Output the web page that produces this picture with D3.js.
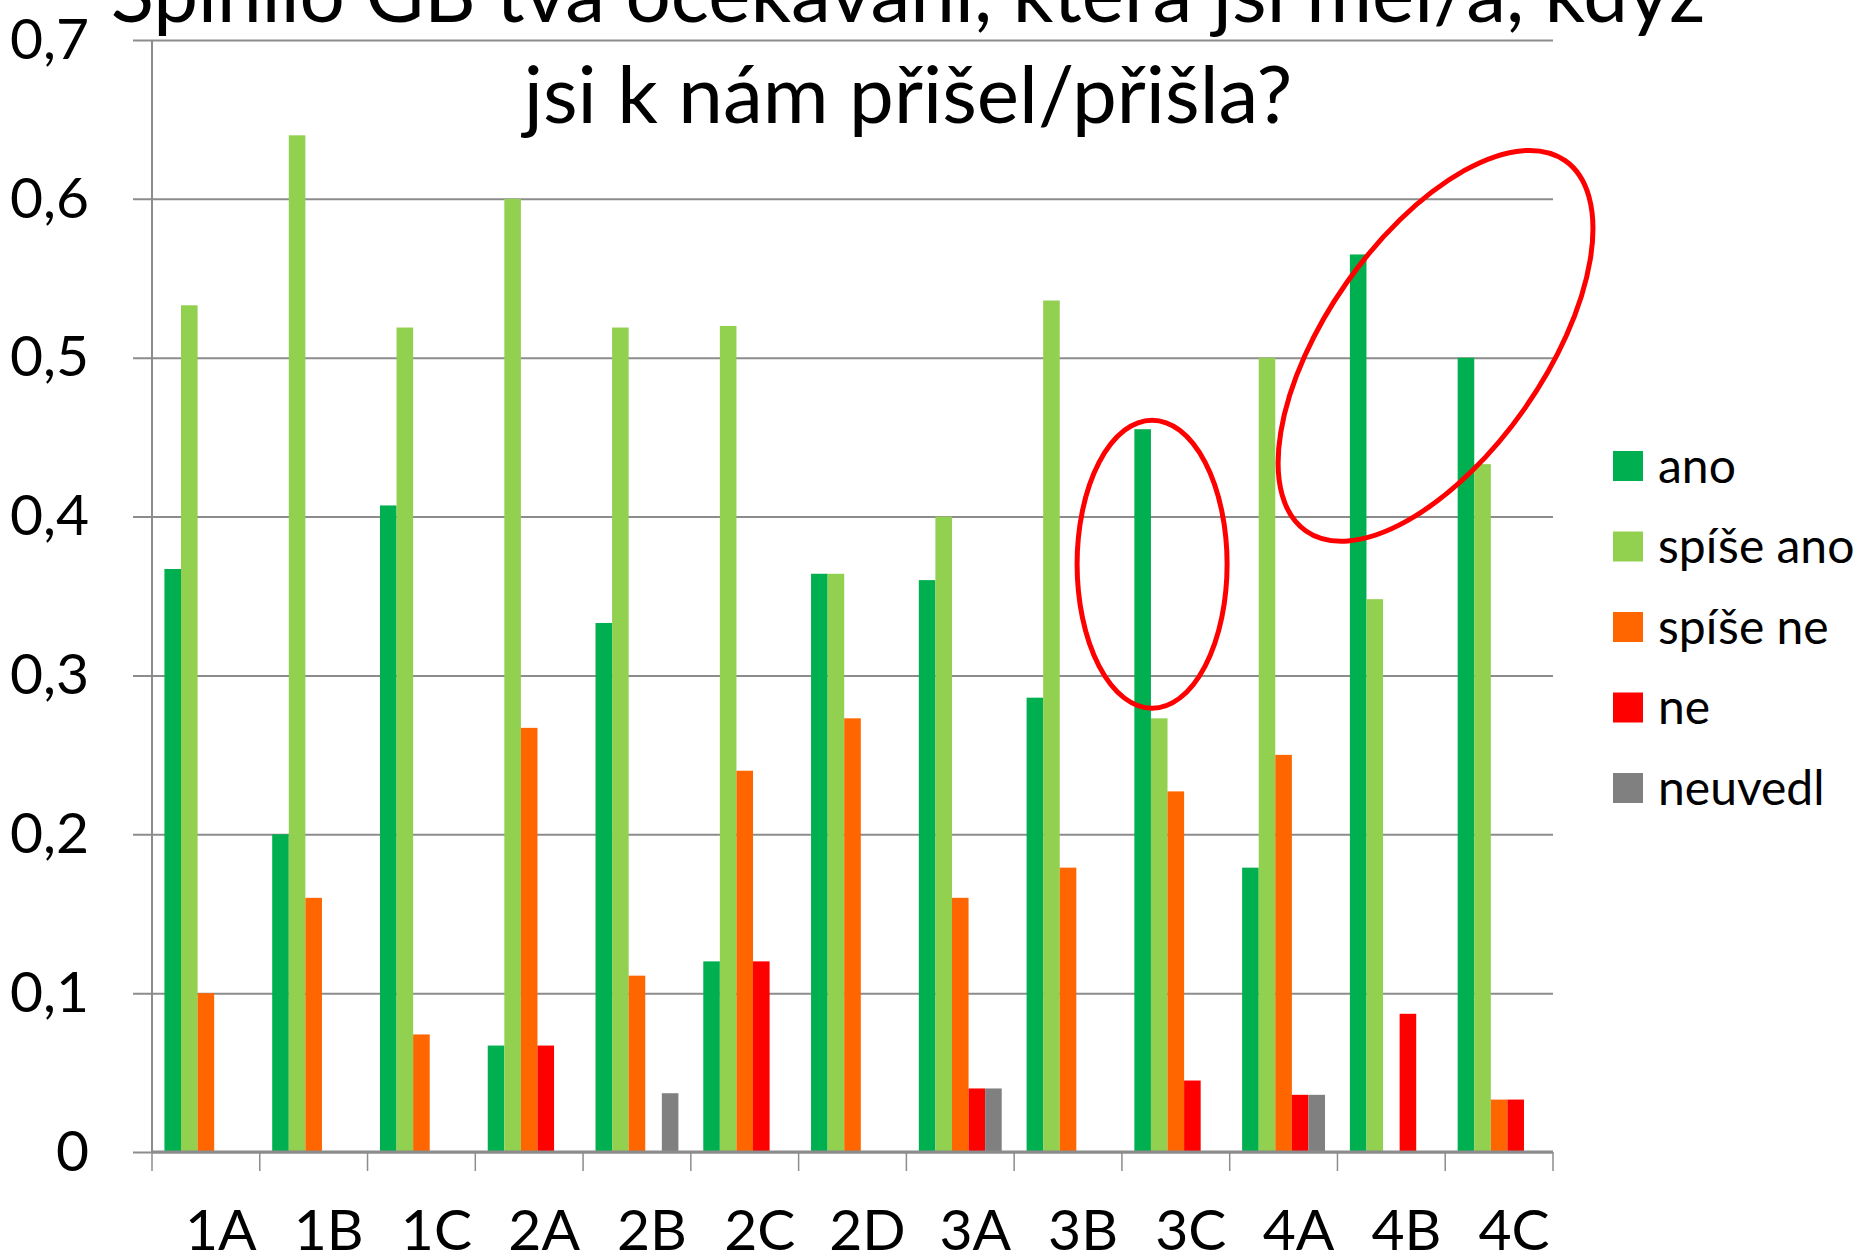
<!DOCTYPE html>
<html>
<head>
<meta charset="utf-8">
<script src="https://cdn.jsdelivr.net/npm/d3@7"></script>
<style>
  body { margin: 0; background: #fff; }
  svg { display: block; font-family: Lato, "Open Sans", sans-serif; }
</style>
</head>
<body>
<svg width="1862" height="1257"></svg>
<script>
// data
const classes = ["1A", "1B", "1C", "2A", "2B", "2C", "2D", "3A", "3B", "3C", "4A", "4B", "4C"];
const seriesNames = ["ano", "spíše ano", "spíše ne", "ne", "neuvedl"];
const ano      = [0.367, 0.200, 0.407, 0.067, 0.333, 0.120, 0.364, 0.360, 0.286, 0.455, 0.179, 0.565, 0.500];
const spiseAno = [0.533, 0.640, 0.519, 0.600, 0.519, 0.520, 0.364, 0.400, 0.536, 0.273, 0.500, 0.348, 0.433];
const spiseNe  = [0.100, 0.160, 0.074, 0.267, 0.111, 0.240, 0.273, 0.160, 0.179, 0.227, 0.250, 0, 0.033];
const ne       = [0, 0, 0, 0.067, 0, 0.120, 0, 0.040, 0, 0.045, 0.036, 0.087, 0.033];
const neuvedl  = [0, 0, 0, 0, 0.037, 0, 0, 0.040, 0, 0, 0.036, 0, 0];
const yTicks = [0, 0.1, 0.2, 0.3, 0.4, 0.5, 0.6, 0.7];
const titleLines = ["Splnilo GB tvá očekávání, která jsi měl/a, když", "jsi k nám přišel/přišla?"];

const colors = ["#00B050", "#92D050", "#FF6600", "#FF0000", "#808080"];
const allSeries = [ano, spiseAno, spiseNe, ne, neuvedl];

const rows = [];
classes.forEach((c, i) => {
    seriesNames.forEach((s, j) => {
        rows.push({cls: c, series: s, value: allSeries[j][i]});
    });
});

const plotLeft = 152, plotRight = 1553, plotTop = 40, plotBottom = 1152;
const plotW = plotRight - plotLeft;

const svg = d3.select("svg");

const x0 = d3.scaleBand().domain(classes).range([plotLeft, plotRight]).paddingInner(0).paddingOuter(0);
const x1 = d3.scaleBand().domain(seriesNames).range([0, x0.bandwidth()]).paddingInner(0).paddingOuter(0.75);
const y = d3.scaleLinear().domain([0, 0.7]).range([plotBottom, plotTop]);
const color = d3.scaleOrdinal().domain(seriesNames).range(colors);

const cz = d3.formatLocale({decimal: ",", thousands: " ", grouping: [3], currency: ["", " Kč"]});
const fmt = cz.format(".1~f");

// gridlines + y labels
const yAxis = d3.axisLeft(y).tickValues(yTicks).tickFormat(fmt).tickSize(plotW + 19).tickPadding(44);
const gy = svg.append("g")
    .attr("transform", `translate(${plotRight},0)`)
    .call(yAxis);
gy.select(".domain").remove();
gy.selectAll(".tick line").attr("stroke", "#8c8c8c").attr("stroke-width", 2);
gy.selectAll(".tick text").attr("font-size", 57).attr("fill", "#000").attr("font-family", "Lato");

// vertical axis line
svg.append("line")
    .attr("x1", plotLeft).attr("x2", plotLeft)
    .attr("y1", y(0.7)).attr("y2", y(0))
    .attr("stroke", "#8c8c8c").attr("stroke-width", 2);

// bars
svg.append("g").selectAll("rect").data(rows.filter(d => d.value > 0)).enter().append("rect")
    .attr("x", d => x0(d.cls) + x1(d.series))
    .attr("y", d => y(d.value))
    .attr("width", x1.bandwidth())
    .attr("height", d => y(0) - y(d.value))
    .attr("fill", d => color(d.series));

// x axis line and boundary ticks
svg.append("line")
    .attr("x1", plotLeft).attr("x2", plotRight)
    .attr("y1", y(0)).attr("y2", y(0))
    .attr("stroke", "#8c8c8c").attr("stroke-width", 3);
svg.append("g").selectAll("line").data(d3.range(classes.length + 1)).enter().append("line")
    .attr("x1", i => plotLeft + i * x0.step())
    .attr("x2", i => plotLeft + i * x0.step())
    .attr("y1", y(0)).attr("y2", y(0) + 19)
    .attr("stroke", "#8c8c8c").attr("stroke-width", 1.5);

const xAxis = d3.axisBottom(x0).tickSize(0).tickPadding(0);
const gx = svg.append("g").attr("transform", `translate(15,${y(0)})`).call(xAxis);
gx.select(".domain").remove();
gx.selectAll(".tick text")
    .attr("font-size", 57).attr("fill", "#000").attr("font-family", "Lato")
    .attr("dy", null).attr("y", 98);

// title
const title = svg.append("g");
title.selectAll("text").data(titleLines).enter().append("text")
    .attr("x", 908)
    .attr("y", (d, i) => 22 + i * 101)
    .attr("text-anchor", "middle")
    .attr("font-size", 80)
    .attr("fill", "#000")
    .text(d => d);

// legend
const legend = svg.append("g").attr("transform", "translate(1613,451)");
const li = legend.selectAll("g").data(seriesNames).enter().append("g")
    .attr("transform", (d, i) => `translate(0,${i * 80.5})`);
li.append("rect").attr("width", 30).attr("height", 30).attr("fill", d => color(d));
li.append("text").attr("x", 45).attr("y", 15).attr("dy", "0.35em")
    .attr("font-size", 48).attr("fill", "#000").text(d => d);

// red annotation ellipses
svg.append("ellipse")
    .attr("cx", x0("3C") + x0.bandwidth() * 0.28)
    .attr("cy", y(0.37))
    .attr("rx", 75).attr("ry", 144)
    .attr("fill", "none").attr("stroke", "#FF0000").attr("stroke-width", 5);
const e2x = x0("4B") + x0.bandwidth() * 0.91, e2y = y(0.5075);
svg.append("ellipse")
    .attr("cx", 0).attr("cy", 0)
    .attr("rx", 226).attr("ry", 109)
    .attr("transform", `translate(${e2x},${e2y}) rotate(-55)`)
    .attr("fill", "none").attr("stroke", "#FF0000").attr("stroke-width", 5);
</script>
</body>
</html>
